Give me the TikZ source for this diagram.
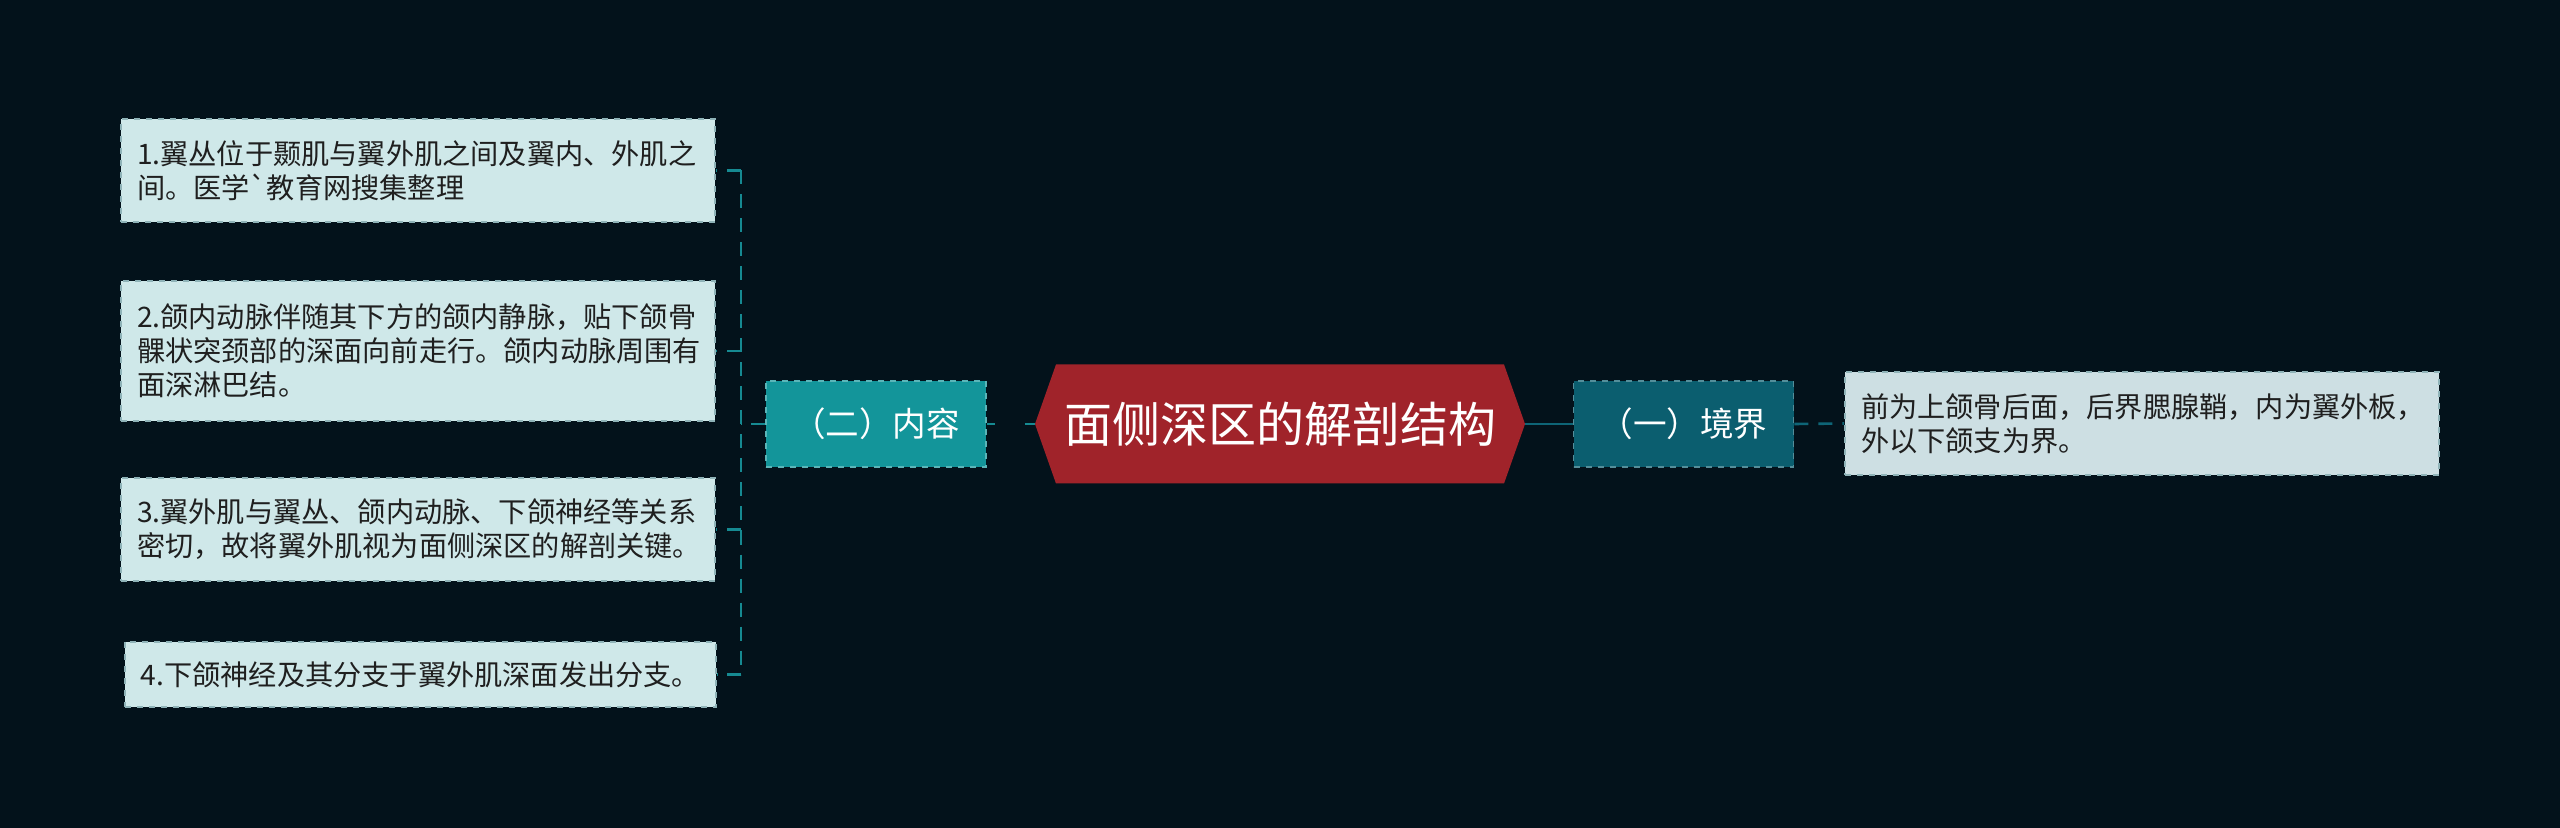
\documentclass[tikz,border=0pt]{standalone}
\usepackage{fontspec}
\setmainfont{Noto Sans CJK SC}[Ligatures=TeXOff]
\usetikzlibrary{positioning}
\definecolor{BgCol}{HTML}{03121B}
\definecolor{RootCol}{HTML}{A0232A}
\definecolor{SubLeftCol}{HTML}{13959A}
\definecolor{SubRightCol}{HTML}{0B5E6F}
\definecolor{LeafCol}{HTML}{CFE8E9}
\definecolor{LeafRightCol}{HTML}{CDDFE3}
\definecolor{LeafEdge}{HTML}{8FB3B8}
\definecolor{LinkCol}{HTML}{168A92}
\definecolor{LinkDarkCol}{HTML}{0E6577}

\begin{document}
\begin{tikzpicture}[x=0.5pt,y=-0.5pt,
		leaf/.style={fill=LeafCol, draw=LeafEdge, dashed, line width=0.8pt, text=black!88, align=left,
			font=\fontsize{14.1}{17}\selectfont, text width=281pt, inner xsep=8pt, inner ysep=0pt},
		sub/.style={draw=#1!70!white, fill=#1, dashed, line width=0.8pt, text=white,
			font=\fontsize{16.8}{20}\selectfont, minimum width=110pt, minimum height=43pt, inner sep=0pt},
		link/.style={draw=LinkCol, line width=1.3pt, dash pattern=on 7pt off 5pt}]
			\pgfmathsetmacro{\RootX}{1280}
			\pgfmathsetmacro{\RootY}{424}
			\pgfmathsetmacro{\RootHalfW}{245}
			\pgfmathsetmacro{\RootHalfH}{59.5}
			\pgfmathsetmacro{\RootInset}{21}
			\pgfmathsetmacro{\LeafX}{418}
			\pgfmathsetmacro{\TrunkX}{741}
			
			% BACKGROUND
			\fill[BgCol] (0,0) rectangle (2560,828);
			\useasboundingbox (0,0) rectangle (2560,828);
			
			% ROOT
			\coordinate (RootW) at (\RootX-\RootHalfW, \RootY);
			\coordinate (RootE) at (\RootX+\RootHalfW, \RootY);
			\fill[RootCol] (RootW) -- ++(\RootInset,-\RootHalfH) -- ++(2*\RootHalfW-2*\RootInset,0) -- (RootE)
				-- ++(-\RootInset,\RootHalfH) -- ++(-2*\RootHalfW+2*\RootInset,0) -- cycle;
			\node[text=white, font=\fontsize{24}{28}\selectfont] (root) at (\RootX,\RootY) {面侧深区的解剖结构};
			
			% RIGHT
			\node[sub=SubRightCol] (border) at (1683.5,\RootY) {（一）境界};
			\node[leaf, fill=LeafRightCol, minimum height=51.5pt] (borderText) at (2142,423.5)
				{前为上颌骨后面，后界腮腺鞘，内为翼外板，\\外以下颌支为界。};
			\draw[link, draw=LinkDarkCol, dash pattern=on 28pt off 3pt on 6pt off 4pt] (RootE) -- (border.west);
			\draw[link, draw=LinkDarkCol] (border.east) -- (borderText.west);
			
			% LEFT
			\node[sub=SubLeftCol] (content) at (876,\RootY) {（二）内容};
			\draw[link, dash pattern=on 4pt off 15pt on 60pt] (content.east) -- (RootW);
			\coordinate (Trunk) at (\TrunkX,\RootY);
			\draw[link] (content.west) -- (Trunk);
			
			\node[leaf, minimum height=51.5pt] (leafA) at (\LeafX,170.5)
				{1.翼丛位于颞肌与翼外肌之间及翼内、外肌之\\间。医学`教育网搜集整理};
			\node[leaf, minimum height=70pt] (leafB) at (\LeafX,351)
				{2.颌内动脉伴随其下方的颌内静脉，贴下颌骨\\髁状突颈部的深面向前走行。颌内动脉周围有\\面深淋巴结。};
			\node[leaf, minimum height=51.5pt] (leafC) at (\LeafX,529.5)
				{3.翼外肌与翼丛、颌内动脉、下颌神经等关系\\密切，故将翼外肌视为面侧深区的解剖关键。};
			\node[leaf, text width=, align=center, minimum width=294.5pt, minimum height=32.5pt] (leafD) at (420.5,674.5)
				{4.下颌神经及其分支于翼外肌深面发出分支。};
			
			\draw[link] (Trunk|-leafA.east) -- (Trunk|-leafD.east);
			\foreach \leaf in {leafA,leafB,leafC,leafD}
				\draw[link] (Trunk|-\leaf.east) -- (\leaf.east);
		\end{tikzpicture}
\end{document}
